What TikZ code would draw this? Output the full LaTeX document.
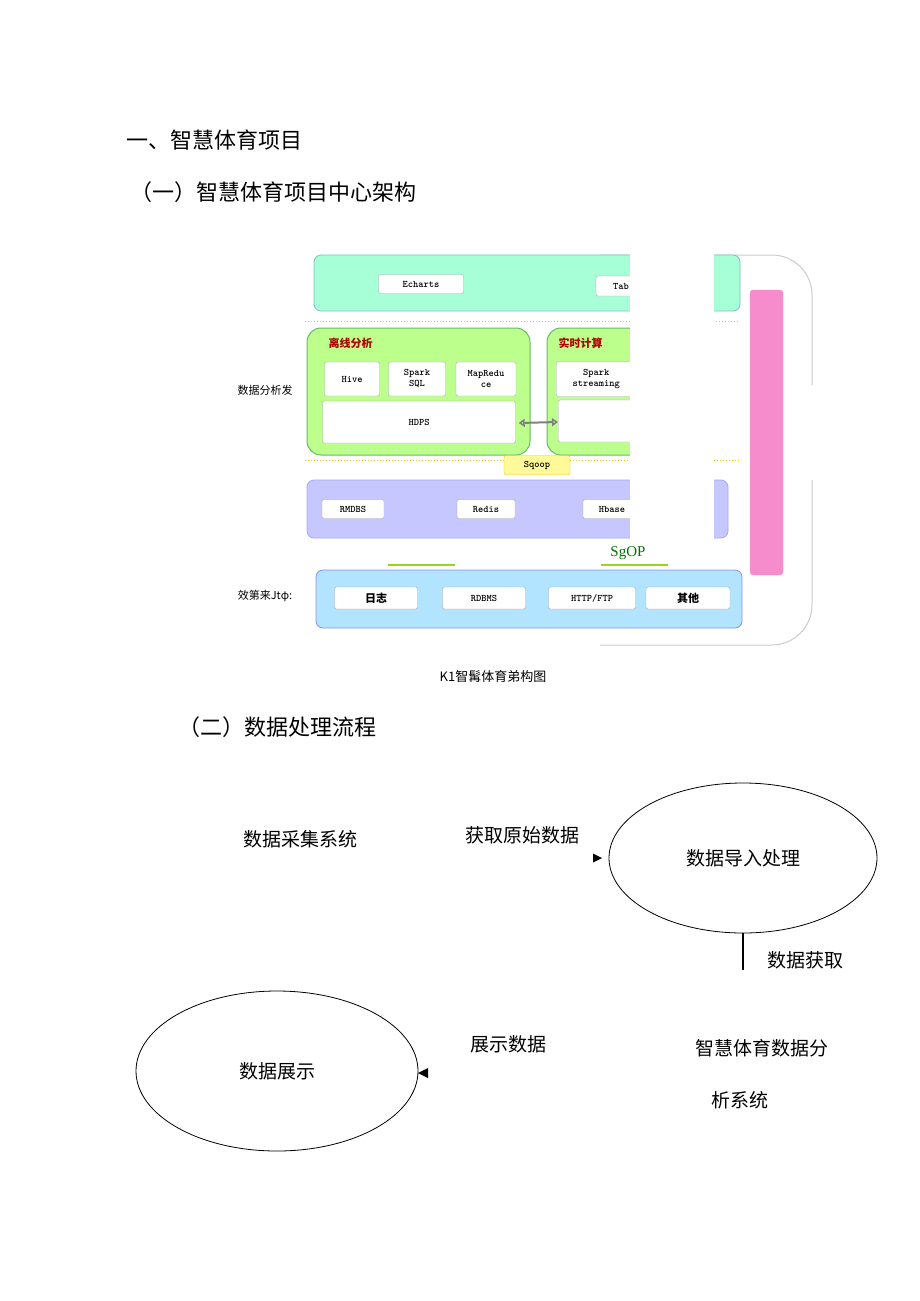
\documentclass[tikz,border=0pt]{standalone}
\usepackage{fontspec}
\setmainfont{Liberation Serif}
\newfontfamily\cjk{Noto Sans CJK SC}
\usetikzlibrary{arrows.meta,shapes.geometric,calc}
\begin{document}
\begin{tikzpicture}[x=1pt,y=-1pt,
  wbox/.style={draw=gray!70,fill=white,rounded corners=2pt,font=\ttfamily\bfseries\fontsize{10}{11}\selectfont,align=center,inner sep=0pt},
  band/.style={rounded corners=7pt,line width=0.8pt},
  grp/.style={draw=green!55!black!60,fill=green!45!lime!45,rounded corners=14pt,line width=1pt},
  lab/.style={font=\cjk\fontsize{19}{21}\selectfont,anchor=center,inner sep=0pt},
  head/.style={font=\cjk\fontsize{22}{24}\selectfont,anchor=west,inner sep=0pt}]
\useasboundingbox[fill=white] (0,0) rectangle (920,1301);
\node[head] (h1) at (126,140) {一、智慧体育项目};
\node[head] (h2) at (130,192) {（一）智慧体育项目中心架构};
% outer outline
\draw[draw=gray!40,line width=1pt,rounded corners=40pt] (600,255) -- (812,255) -- (812,645) -- (600,645);
% top band
\draw[band,draw=teal!50,fill=green!45!cyan!35] (314,255) rectangle (740,311);
\node[wbox,minimum width=85pt,minimum height=19pt] (ech) at (421,284) {Echarts};
\node[wbox,minimum width=50pt,minimum height=20pt] (tab) at (621,286) {Tab};
\draw[dotted,draw=yellow!60!orange,line width=1pt] (305,321) -- (740,321);
% offline
\draw[grp] (307,328) rectangle (530,455);
\node[font=\cjk\bfseries\fontsize{11}{12}\selectfont,text=red!70!black,anchor=west] (off) at (325,343) {离线分析};
\node[wbox,minimum width=55pt,minimum height=34pt] (hive) at (352,379) {Hive};
\node[wbox,minimum width=57pt,minimum height=34pt] (ssql) at (417,379) {Spark\\SQL};
\node[wbox,minimum width=60pt,minimum height=34pt] (mr) at (486,379) {MapRedu\\ce};
\node[wbox,minimum width=193pt,minimum height=42pt] (hdfs) at (419,422) {HDPS};
% realtime
\draw[grp] (547,328) rectangle (700,455);
\node[font=\cjk\bfseries\fontsize{11}{12}\selectfont,text=red!70!black,anchor=west] (rt) at (555,343) {实时计算};
\node[wbox,minimum width=80pt,minimum height=35pt,anchor=west] (ss) at (556,379) {Spark\\streaming};
\node[wbox,minimum width=90pt,minimum height=42pt,anchor=west] (kf) at (558,421) {};
\draw[draw=gray,fill=white,{Triangle[open,length=6pt,width=8pt]}-{Triangle[open,length=6pt,width=8pt]},line width=2pt] (hdfs.east) ++(3,1) -- (kf.west|-hdfs.east);
\node[draw=yellow!50!orange,fill=yellow!40,rounded corners=2pt,minimum width=66pt,minimum height=19pt,font=\ttfamily\bfseries\fontsize{10}{11}\selectfont,inner sep=0pt] (sq) at (537,465) {Sqoop};
\draw[dotted,draw=yellow!60!orange,line width=1pt] (305,460) -- (504,460);
\draw[dotted,draw=yellow!60!orange,line width=1pt] (570,460) -- (740,460);
% storage band
\draw[band,draw=blue!35,fill=blue!22] (307,480) rectangle (728,538);
\node[wbox,minimum width=62pt,minimum height=19pt] (rm) at (353,509) {RMDBS};
\node[wbox,minimum width=58pt,minimum height=19pt] (red) at (486,509) {Redis};
\node[wbox,minimum width=58pt,minimum height=19pt] (hb) at (612,509) {Hbase};
% white patch
\fill[white] (630,250) rectangle (714,545);
% pink bar
\draw[draw=magenta!40,fill=magenta!45,rounded corners=3pt] (750,290) rectangle (783,575);
\fill[white] (784,385) rectangle (815,480);
% green bars and SgOP
\draw[draw=yellow!60!green,line width=1.2pt] (388,565) -- (455,565);
\draw[draw=yellow!60!green,line width=1.2pt] (601,565) -- (668,565);
\node[font=\fontsize{15}{16}\selectfont,text=green!45!black] (sgop) at (628,553) {SgOP};
% source band
\draw[band,draw=blue!45,fill=blue!35!cyan!30] (316,570) rectangle (742,628);
\node[wbox,font=\cjk\bfseries\fontsize{11}{12}\selectfont,minimum width=83pt,minimum height=22pt] (log) at (376,598) {日志};
\node[wbox,minimum width=83pt,minimum height=22pt] (rdb) at (484,598) {RDBMS};
\node[wbox,minimum width=87pt,minimum height=22pt] (http) at (592,598) {HTTP/FTP};
\node[wbox,font=\cjk\bfseries\fontsize{11}{12}\selectfont,minimum width=84pt,minimum height=22pt] (oth) at (688,598) {其他};
\node[font=\cjk\fontsize{11}{12}\selectfont,anchor=center] (l1) at (265,390) {数据分析发};
\node[font=\cjk\fontsize{11}{12}\selectfont,anchor=center] (l2) at (265,596) {效第来Jtφ:};
\node[font=\cjk\fontsize{13}{14}\selectfont] (cap) at (493,677) {K1智髯体育弟构图};
% flow
\node[head] (h3) at (178,727) {（二）数据处理流程};
\node[lab] (col) at (300,839) {数据采集系统};
\node[lab] (get) at (522,835) {获取原始数据};
\node[draw,ellipse,minimum width=268pt,minimum height=150pt,lab,line width=0.8pt] (imp) at (743,858) {数据导入处理};
\coordinate (t1) at (602,858);
\fill ($(t1)+(-9,-4.5)$) -- (t1) -- ($(t1)+(-9,4.5)$) -- cycle;
\coordinate (lb) at (743,970);
\draw[line width=2.5pt] (imp.south) -- (lb);
\node[lab] (acq) at (805,960) {数据获取};
\node[draw,ellipse,minimum width=282pt,minimum height=160pt,lab,line width=0.8pt] (show) at (277,1071) {数据展示};
\coordinate (t2) at (418,1073);
\fill ($(t2)+(10,-5)$) -- (t2) -- ($(t2)+(10,5)$) -- cycle;
\node[lab] (sd) at (508,1044) {展示数据};
\node[lab] (an1) at (762,1048) {智慧体育数据分};
\node[lab] (an2) at (740,1100) {析系统};
\end{tikzpicture}
\end{document}
